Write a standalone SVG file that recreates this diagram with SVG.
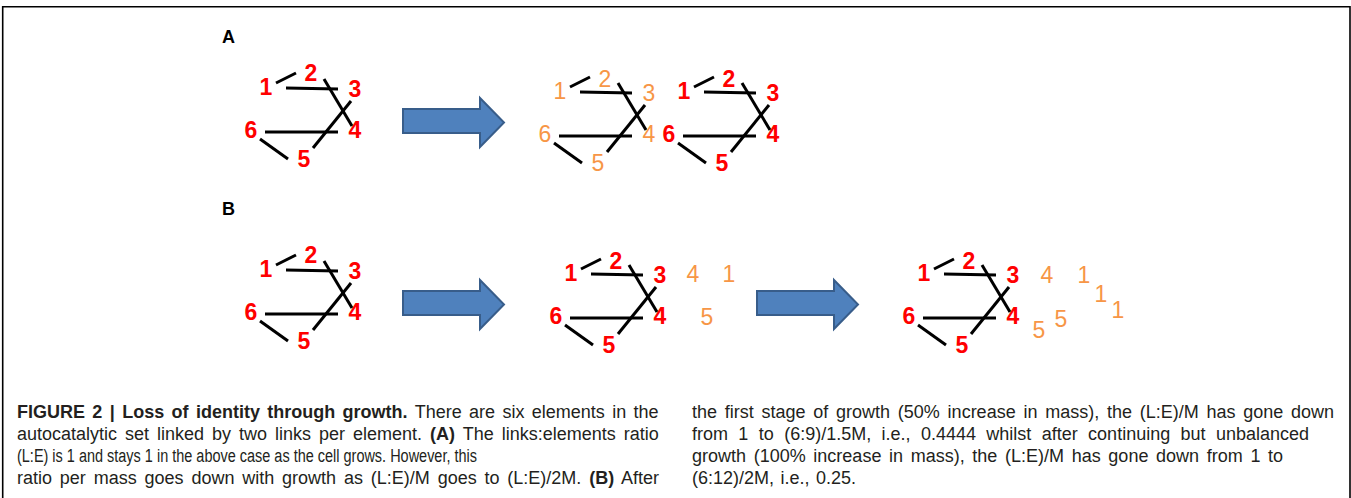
<svg xmlns="http://www.w3.org/2000/svg" xmlns:xlink="http://www.w3.org/1999/xlink" width="1351" height="498" viewBox="0 0 1351 498">
<style>
.red{font-family:"Liberation Sans",Arial,sans-serif;font-size:23px;font-weight:bold;fill:#FF0000;text-anchor:middle}
.org{font-family:"Liberation Sans",Arial,sans-serif;font-size:23px;fill:#F79646;text-anchor:middle}
.lbl{font-family:"Liberation Sans",Arial,sans-serif;font-size:18px;font-weight:bold;fill:#000}
.cap{font-family:"Liberation Sans",Arial,sans-serif;font-size:18px;fill:#231F20}
.b{font-weight:bold}
.edge{stroke:#000;stroke-width:3;fill:none}
.arrow{fill:#4F81BD;stroke:#385D8A;stroke-width:2}
</style>
<defs>
<g id="links" class="edge">
<line x1="276" y1="83" x2="296" y2="73"/>
<line x1="286" y1="88" x2="338" y2="89"/>
<line x1="324" y1="79" x2="352" y2="126"/>
<line x1="351" y1="101" x2="313" y2="148"/>
<line x1="265" y1="132" x2="338" y2="132"/>
<line x1="260" y1="139" x2="288" y2="159"/>
</g>
<path id="arr" d="M0,11 H77 V0 L101,24.5 L77,49 V35 H0 Z"/>
</defs>
<path d="M2.7,498 V6.7 H1350 V498" fill="none" stroke="#000" stroke-width="1.6"/>
<text class="lbl" x="222" y="43">A</text>
<text class="lbl" x="222" y="215">B</text>
<g id="connectors">
<use xlink:href="#links"/>
<use xlink:href="#links" transform="translate(294,4)"/>
<use xlink:href="#links" transform="translate(418,4)"/>
<use xlink:href="#links" transform="translate(0,182)"/>
<use xlink:href="#links" transform="translate(305,186)"/>
<use xlink:href="#links" transform="translate(658,186)"/>
<use xlink:href="#arr" class="arrow" transform="translate(403,98)"/>
<use xlink:href="#arr" class="arrow" transform="translate(403,280)"/>
<use xlink:href="#arr" class="arrow" transform="translate(757,280)"/>
</g>
<g id="graphA1" class="red">
<text x="266" y="95">1</text><text x="311" y="81">2</text><text x="355" y="97">3</text>
<text x="251" y="138">6</text><text x="355" y="138">4</text><text x="304" y="167">5</text>
</g>
<g id="graphA2" class="org" transform="translate(294,4)">
<text x="266" y="95">1</text><text x="311" y="83">2</text><text x="355" y="97">3</text>
<text x="251" y="138">6</text><text x="355" y="138">4</text><text x="304" y="167">5</text>
</g>
<g id="graphA3" class="red" transform="translate(418,4)">
<text x="266" y="95">1</text><text x="311" y="83">2</text><text x="355" y="97">3</text>
<text x="251" y="138">6</text><text x="355" y="138">4</text><text x="304" y="167">5</text>
</g>
<g id="graphB1" class="red" transform="translate(0,182)">
<text x="266" y="95">1</text><text x="311" y="81">2</text><text x="355" y="97">3</text>
<text x="251" y="138">6</text><text x="355" y="138">4</text><text x="304" y="167">5</text>
</g>
<g id="graphB2" class="red" transform="translate(305,186)">
<text x="266" y="95">1</text><text x="311" y="83">2</text><text x="355" y="97">3</text>
<text x="251" y="138">6</text><text x="355" y="138">4</text><text x="304" y="167">5</text>
</g>
<g id="extrasB2" class="org">
<text x="693" y="282">4</text><text x="729" y="282">1</text><text x="707" y="325">5</text>
</g>
<g id="graphB3" class="red" transform="translate(658,186)">
<text x="266" y="95">1</text><text x="311" y="83">2</text><text x="355" y="97">3</text>
<text x="251" y="138">6</text><text x="355" y="138">4</text><text x="304" y="167">5</text>
</g>
<g id="extrasB3" class="org">
<text x="1047" y="283">4</text><text x="1084" y="283">1</text><text x="1101" y="302">1</text>
<text x="1118" y="318">1</text><text x="1039" y="338">5</text><text x="1061" y="327">5</text>
</g>
<g id="caption" class="cap">
<text x="17" y="418" word-spacing="2.37"><tspan class="b">FIGURE 2 | Loss of identity through growth.</tspan> There are six elements in the</text>
<text x="17" y="440" word-spacing="2.98">autocatalytic set linked by two links per element. <tspan class="b">(A)</tspan> The links:elements ratio</text>
<text x="17" y="462" textLength="460" lengthAdjust="spacingAndGlyphs">(L:E) is 1 and stays 1 in the above case as the cell grows. However, this</text>
<text x="17" y="484" word-spacing="2.83">ratio per mass goes down with growth as (L:E)/M goes to (L:E)/2M. <tspan class="b">(B)</tspan> After</text>
<text x="692" y="418" word-spacing="2.75">the first stage of growth (50% increase in mass), the (L:E)/M has gone down</text>
<text x="692" y="440" word-spacing="5.37">from 1 to (6:9)/1.5M, i.e., 0.4444 whilst after continuing but unbalanced</text>
<text x="692" y="462" word-spacing="2.65">growth (100% increase in mass), the (L:E)/M has gone down from 1 to</text>
<text x="692" y="484" word-spacing="1.45">(6:12)/2M, i.e., 0.25.</text>
</g>
</svg>
